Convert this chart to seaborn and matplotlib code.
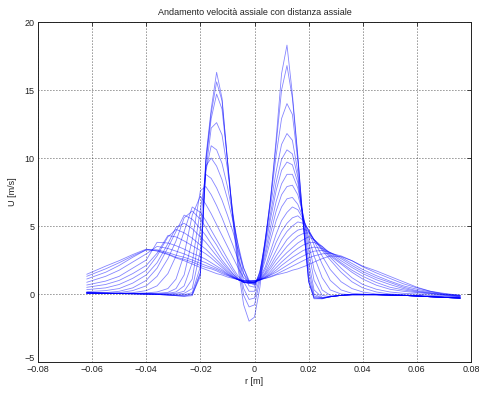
import matplotlib
matplotlib.use("Agg")
import matplotlib.pyplot as plt
import matplotlib.transforms as mtransforms
import numpy as np
import pandas as pd
import seaborn as sns

# radial measurement positions [mm]
r_mm = [-62, -55, -50, -45, -40, -36, -32, -29, -26, -23,
        -20, -18, -16, -14, -12, -10, -8, -6, -4, -2,
        0, 2, 4, 6, 8, 10, 12, 14, 16, 18, 20, 22,
        25, 28, 32, 36, 40, 45, 50, 55, 60, 65, 70, 76]

# axial velocity profiles U [m/s], one per axial station (nearest first)
station_01 = [0.08, 0.05, 0.03, 0.02, 0.0, -0.03, -0.08, -0.12, -0.18, -0.12,
              1.5, 10.0, 13.6, 16.3, 14.4, 9.8, 5.4, 1.8, -0.8, -2.0,
              -1.7, 0.5, 3.8, 7.1, 11.4, 16.2, 18.3, 14.7, 10.2, 5.2, 0.9, -0.35,
              -0.35, -0.2, -0.1, -0.05, -0.05, -0.05, -0.08, -0.1, -0.15, -0.2, -0.25, -0.3]
station_02 = [0.08, 0.05, 0.03, 0.02, 0.0, -0.03, -0.08, -0.12, -0.15, -0.05,
              1.3, 9.8, 13.3, 15.6, 14.2, 9.9, 5.6, 2.2, -0.1, -0.95,
              -0.8, 1.0, 4.0, 7.2, 11.0, 15.0, 16.8, 14.4, 10.1, 5.2, 0.9, -0.3,
              -0.35, -0.2, -0.1, -0.05, -0.05, -0.05, -0.08, -0.1, -0.15, -0.2, -0.25, -0.3]
station_03 = [0.08, 0.05, 0.03, 0.02, 0.0, -0.03, -0.07, -0.1, -0.1, 0.0,
              1.6, 9.6, 12.9, 14.7, 13.6, 9.8, 5.8, 2.6, 0.4, -0.4,
              -0.3, 1.3, 4.1, 7.0, 10.2, 12.9, 14.0, 13.2, 9.8, 5.2, 1.0, -0.25,
              -0.3, -0.2, -0.1, -0.05, -0.05, -0.05, -0.08, -0.1, -0.15, -0.2, -0.25, -0.3]
station_04 = [0.08, 0.05, 0.03, 0.02, 0.0, -0.02, -0.05, -0.07, -0.05, 0.1,
              2.0, 9.0, 12.2, 12.6, 11.7, 9.2, 6.0, 3.0, 0.9, 0.2,
              0.2, 1.6, 4.0, 6.6, 9.0, 11.0, 11.8, 11.3, 9.0, 5.2, 1.3, -0.15,
              -0.3, -0.2, -0.1, -0.05, -0.05, -0.05, -0.08, -0.1, -0.15, -0.2, -0.25, -0.3]
station_05 = [0.08, 0.05, 0.04, 0.02, 0.0, -0.02, -0.03, -0.02, 0.05, 0.4,
              3.2, 9.0, 10.9, 10.6, 9.6, 7.9, 5.8, 3.5, 1.5, 0.6,
              0.5, 1.7, 3.8, 6.0, 8.2, 9.9, 10.6, 10.3, 8.6, 5.4, 1.8, 0.0,
              -0.3, -0.2, -0.1, -0.05, -0.05, -0.05, -0.08, -0.1, -0.15, -0.2, -0.25, -0.3]
station_06 = [0.08, 0.05, 0.04, 0.02, 0.0, -0.01, 0.0, 0.05, 0.2, 1.1,
              4.8, 9.4, 10.0, 9.4, 8.4, 7.0, 5.4, 3.6, 1.9, 0.85,
              0.65, 1.6, 3.5, 5.6, 7.6, 9.1, 9.7, 9.5, 8.2, 5.6, 2.4, 0.3,
              -0.25, -0.2, -0.1, -0.05, -0.05, -0.05, -0.08, -0.1, -0.15, -0.2, -0.25, -0.3]
station_07 = [0.08, 0.05, 0.04, 0.03, 0.02, 0.02, 0.05, 0.15, 0.6, 2.3,
              6.2, 8.8, 8.5, 7.8, 6.9, 5.8, 4.6, 3.2, 1.9, 1.0,
              0.7, 1.4, 3.1, 5.0, 6.8, 8.1, 8.8, 8.8, 7.8, 5.8, 3.2, 1.0,
              -0.1, -0.2, -0.1, -0.05, -0.05, -0.05, -0.08, -0.1, -0.15, -0.2, -0.25, -0.3]
station_08 = [0.08, 0.05, 0.04, 0.03, 0.03, 0.05, 0.12, 0.4, 1.4, 4.0,
              7.6, 7.9, 7.3, 6.5, 5.6, 4.6, 3.6, 2.5, 1.5, 0.9,
              0.75, 1.3, 2.8, 4.5, 6.1, 7.3, 7.9, 8.0, 7.3, 5.8, 3.8, 1.8,
              0.3, -0.1, -0.1, -0.05, -0.05, -0.05, -0.08, -0.1, -0.15, -0.2, -0.25, -0.3]
station_09 = [0.08, 0.06, 0.05, 0.05, 0.08, 0.15, 0.4, 1.1, 2.9, 5.8,
              7.2, 6.6, 5.9, 5.1, 4.3, 3.5, 2.7, 1.9, 1.2, 0.85,
              0.8, 1.2, 2.5, 4.0, 5.4, 6.4, 7.0, 7.1, 6.6, 5.6, 4.2, 2.8,
              1.2, 0.3, 0.0, -0.05, -0.05, -0.05, -0.08, -0.1, -0.15, -0.2, -0.25, -0.3]
station_10 = [0.07, 0.05, 0.05, 0.1, 0.25, 0.6, 1.5, 2.8, 4.6, 6.4,
              6.0, 5.4, 4.7, 4.0, 3.3, 2.6, 1.9, 1.3, 0.9, 0.8,
              0.85, 1.2, 2.0, 3.2, 4.4, 5.4, 6.0, 6.4, 6.2, 5.5, 4.6, 3.6,
              2.2, 1.0, 0.3, 0.05, 0.0, -0.05, -0.08, -0.1, -0.15, -0.2, -0.25, -0.3]
station_11 = [0.07, 0.07, 0.1, 0.25, 0.6, 1.3, 2.6, 3.9, 5.6, 6.1,
              5.5, 4.9, 4.2, 3.6, 2.9, 2.3, 1.7, 1.15, 0.85, 0.8,
              0.85, 1.15, 1.8, 2.8, 3.8, 4.6, 5.2, 5.6, 5.75, 5.4, 4.7, 3.9,
              2.8, 1.8, 0.9, 0.4, 0.15, 0.0, -0.05, -0.1, -0.12, -0.18, -0.22, -0.28]
station_12 = [0.07, 0.1, 0.2, 0.45, 1.0, 1.9, 3.4, 4.6, 5.8, 5.5,
              4.8, 4.3, 3.7, 3.1, 2.5, 2.0, 1.5, 1.1, 0.85, 0.8,
              0.85, 1.1, 1.6, 2.4, 3.2, 4.0, 4.6, 5.0, 5.3, 5.2, 4.7, 4.0,
              3.2, 2.5, 1.6, 0.9, 0.45, 0.15, 0.0, -0.05, -0.1, -0.15, -0.2, -0.25]
station_13 = [0.17, 0.25, 0.4, 0.8, 1.4, 2.3, 3.7, 4.9, 5.2, 4.8,
              4.2, 3.8, 3.3, 2.8, 2.3, 1.85, 1.45, 1.1, 0.85, 0.8,
              0.85, 1.05, 1.5, 2.1, 2.8, 3.4, 4.0, 4.4, 4.7, 4.8, 4.6, 4.0,
              3.3, 2.7, 1.9, 1.2, 0.7, 0.35, 0.15, 0.05, 0.0, -0.1, -0.15, -0.2]
station_14 = [0.32, 0.45, 0.7, 1.15, 1.75, 2.8, 4.2, 4.75, 4.5, 4.1,
              3.6, 3.3, 2.9, 2.5, 2.1, 1.7, 1.35, 1.05, 0.85, 0.85,
              0.9, 1.05, 1.4, 1.9, 2.5, 3.0, 3.5, 3.9, 4.25, 4.45, 4.5, 4.0,
              3.4, 2.8, 2.2, 1.6, 1.1, 0.65, 0.35, 0.2, 0.1, 0.0, -0.1, -0.2]
station_15 = [0.49, 0.7, 1.0, 1.5, 2.1, 3.0, 4.3, 4.2, 3.9, 3.55,
              3.2, 2.95, 2.65, 2.3, 1.95, 1.6, 1.3, 1.05, 0.9, 0.85,
              0.9, 1.05, 1.3, 1.7, 2.2, 2.65, 3.05, 3.4, 3.75, 4.0, 4.2, 4.0,
              3.5, 2.9, 2.3, 1.75, 1.3, 0.85, 0.5, 0.3, 0.15, 0.05, -0.05, -0.15]
station_16 = [0.66, 0.95, 1.3, 1.9, 2.5, 3.8, 3.75, 3.55, 3.3, 3.0,
              2.75, 2.55, 2.3, 2.05, 1.8, 1.5, 1.25, 1.05, 0.9, 0.9,
              0.9, 1.0, 1.25, 1.55, 1.95, 2.35, 2.7, 3.05, 3.35, 3.6, 3.75, 3.8,
              3.5, 3.0, 2.45, 1.95, 1.5, 1.05, 0.7, 0.4, 0.2, 0.05, -0.05, -0.15]
station_17 = [0.86, 1.3, 1.75, 2.35, 2.95, 3.5, 3.35, 3.15, 2.95, 2.7,
              2.45, 2.3, 2.1, 1.9, 1.7, 1.45, 1.25, 1.05, 0.95, 0.9,
              0.95, 1.05, 1.2, 1.45, 1.75, 2.1, 2.4, 2.7, 2.95, 3.2, 3.35, 3.45,
              3.35, 3.05, 2.6, 2.1, 1.65, 1.2, 0.85, 0.5, 0.25, 0.1, -0.05, -0.15]
station_18 = [1.1, 1.6, 2.1, 2.7, 3.25, 3.25, 3.05, 2.85, 2.7, 2.5,
              2.25, 2.1, 1.95, 1.8, 1.6, 1.4, 1.2, 1.05, 0.95, 0.95,
              0.95, 1.05, 1.2, 1.4, 1.6, 1.85, 2.1, 2.35, 2.6, 2.8, 3.0, 3.15,
              3.2, 3.05, 2.7, 2.25, 1.8, 1.35, 0.95, 0.6, 0.35, 0.15, 0.0, -0.1]
station_19 = [1.3, 1.85, 2.3, 2.8, 3.25, 3.2, 2.95, 2.7, 2.55, 2.35,
              2.1, 1.95, 1.85, 1.7, 1.5, 1.35, 1.2, 1.05, 1.0, 0.95,
              1.0, 1.05, 1.15, 1.3, 1.45, 1.65, 1.85, 2.05, 2.25, 2.45, 2.65, 2.8,
              2.95, 3.0, 2.8, 2.45, 2.0, 1.55, 1.15, 0.75, 0.45, 0.2, 0.05, -0.1]
station_20 = [1.45, 2.05, 2.45, 2.9, 3.3, 3.15, 2.9, 2.65, 2.45, 2.2,
              1.95, 1.8, 1.65, 1.5, 1.4, 1.25, 1.15, 1.05, 1.0, 1.0,
              1.0, 1.05, 1.15, 1.25, 1.4, 1.5, 1.6, 1.75, 1.85, 2.0, 2.15, 2.35,
              2.6, 2.8, 2.75, 2.45, 2.05, 1.7, 1.3, 0.9, 0.5, 0.2, 0.0, -0.1]

x_ticks = [-0.08, -0.06, -0.04, -0.02, 0.0, 0.02, 0.04, 0.06, 0.08]
x_tick_labels = ["\u22120.08", "\u22120.06", "\u22120.04", "\u22120.02", "0",
                 "0.02", "0.04", "0.06", "0.08"]
y_ticks = [-5, 0, 5, 10, 15, 20]
y_tick_labels = ["\u22125", "0", "5", "10", "15", "20"]

stations = [station_01, station_02, station_03, station_04, station_05,
            station_06, station_07, station_08, station_09, station_10,
            station_11, station_12, station_13, station_14, station_15,
            station_16, station_17, station_18, station_19, station_20]

r_m = np.asarray(r_mm) / 1000.0
frames = [pd.DataFrame({"r": r_m, "U": u, "station": i})
          for i, u in enumerate(stations)]
df = pd.concat(frames, ignore_index=True)

sns.set_style("white")
plt.rcParams["font.family"] = ["Liberation Sans", "DejaVu Sans"]
plt.rcParams["axes.unicode_minus"] = True

fig = plt.figure(figsize=(4.79, 3.94), dpi=100)
ax = fig.add_axes([38 / 479, 32 / 394, 433 / 479, 340 / 394])

sns.lineplot(data=df, x="r", y="U", units="station", estimator=None,
             sort=False, color=(0.0, 0.0, 1.0), linewidth=0.6, alpha=0.48,
             legend=False, ax=ax)

ax.set_xlim(-0.08, 0.08)
ax.set_ylim(-5, 20)
ax.set_xticks(x_ticks)
ax.set_xticklabels(x_tick_labels)
ax.set_yticks(y_ticks)
ax.set_yticklabels(y_tick_labels)

ax.grid(True, linestyle=(0, (1, 2.6)), color="#222222", linewidth=0.6)
ax.set_axisbelow(True)
ax.tick_params(direction="in", length=3, width=0.6, colors="#222222",
               labelsize=6.5, top=True, right=True, pad=2.5)
for s in ax.spines.values():
    s.set_color("#222222")
    s.set_linewidth(0.7)

# lift the lowest y label a little so it sits clear of the first x label
lowest = ax.get_yticklabels()[0]
lowest.set_transform(lowest.get_transform() +
                     mtransforms.ScaledTranslation(0, 3 / 72, fig.dpi_scale_trans))

ax.set_xlabel("r [m]", fontsize=6.5, color="#222222", labelpad=2)
ax.set_ylabel("U [m/s]", fontsize=6.5, color="#222222", labelpad=5)
ax.set_title("Andamento velocità assiale con distanza assiale",
             fontsize=6.5, color="#222222", pad=5)

fig.savefig("out.png", dpi=100, facecolor="white")
